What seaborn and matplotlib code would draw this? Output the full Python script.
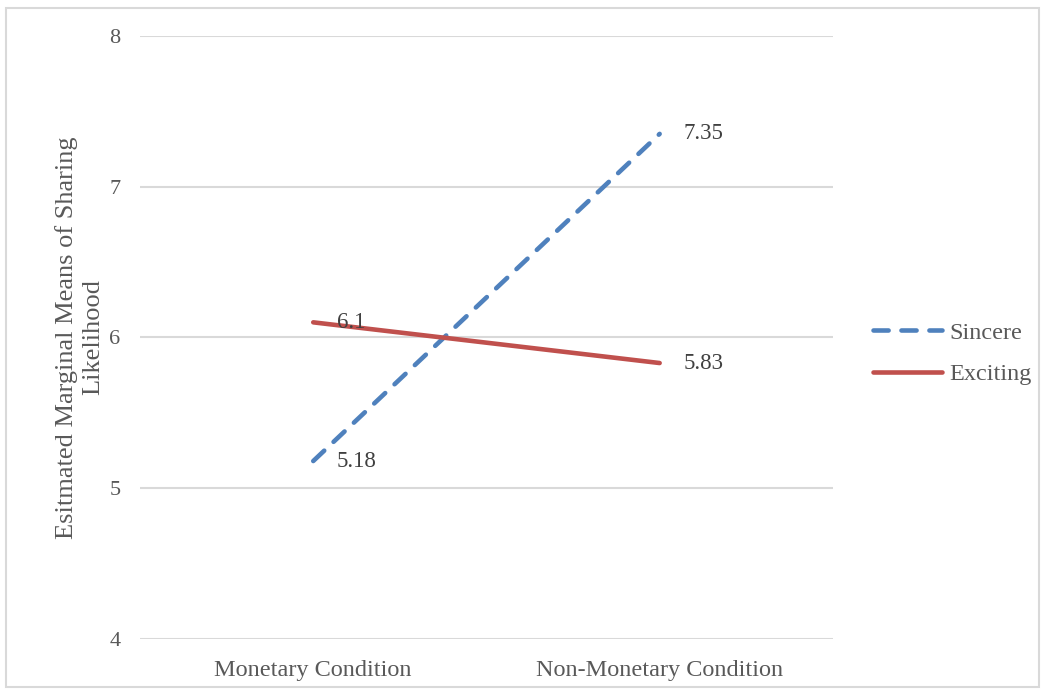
import matplotlib
matplotlib.use("Agg")
import matplotlib.pyplot as plt
from matplotlib.lines import Line2D
from matplotlib.patches import Rectangle
import seaborn as sns
import pandas as pd

# Chart values
conditions = ["Monetary Condition", "Non-Monetary Condition"]
sincere = [5.18, 7.35]
exciting = [6.1, 5.83]
series_names = ["Sincere", "Exciting"]

# Long-form table for seaborn
df = pd.DataFrame({
    "condition": conditions * 2,
    "value": sincere + exciting,
    "series": [series_names[0]] * 2 + [series_names[1]] * 2,
})
df["x"] = df["condition"].map({c: i for i, c in enumerate(conditions)})

sns.set_theme(style="white")
plt.rcParams["font.family"] = ["Liberation Serif", "DejaVu Serif"]
text_color = "#595959"
grid_color = "#D9D9D9"
colors = {"Sincere": "#4F81BD", "Exciting": "#C0504D"}
lw = 3.3
dash = (3.3, 2.8)

fig = plt.figure(figsize=(10.45, 6.9), dpi=100)
ax = fig.add_axes([0.134, 0.074, 0.663, 0.874])

sns.lineplot(data=df, x="x", y="value", hue="series", style="series",
             palette=colors, dashes={"Sincere": dash, "Exciting": ""},
             linewidth=lw, legend=False, ax=ax,
             dash_capstyle="round", solid_capstyle="round")

# Data labels to the right of each point
for _, row in df.iterrows():
    ax.annotate(f"{row['value']:g}", (row["x"], row["value"]),
                xytext=(17, 0), textcoords="offset points",
                ha="left", va="center", fontsize=16.5, color="#404040")

ax.set_xlim(-0.5, 1.5)
ax.set_ylim(4, 8)
ax.set_yticks([4, 5, 6, 7, 8])
ax.set_xticks(range(len(conditions)))
ax.set_xticklabels(conditions)
ax.tick_params(axis="both", length=0, labelcolor=text_color)
ax.tick_params(axis="y", pad=14, labelsize=16)
ax.tick_params(axis="x", pad=15, labelsize=17.5)
ax.yaxis.grid(True, color=grid_color, linewidth=1.5)
ax.set_axisbelow(True)
for s in ax.spines.values():
    s.set_visible(False)
ax.set_xlabel("")
ax.set_ylabel("Esitmated Marginal Means of Sharing\nLikelihood", fontsize=19,
              color=text_color, linespacing=1.25, labelpad=4)

handles = [
    Line2D([], [], color=colors["Sincere"], lw=lw, dashes=dash,
           dash_capstyle="round"),
    Line2D([], [], color=colors["Exciting"], lw=lw, solid_capstyle="round"),
]
fig.legend(handles, series_names, loc="center left",
           bbox_to_anchor=(0.835, 0.488), frameon=False, fontsize=17.5,
           labelcolor=text_color, handlelength=2.85, handletextpad=0.3,
           labelspacing=0.8, borderpad=0, borderaxespad=0)

# Light chart border
fig.patches.append(Rectangle((0.006, 0.004), 0.988, 0.984, transform=fig.transFigure,
                             fill=False, edgecolor=grid_color, linewidth=1.5))

fig.savefig("out.png", dpi=100)
